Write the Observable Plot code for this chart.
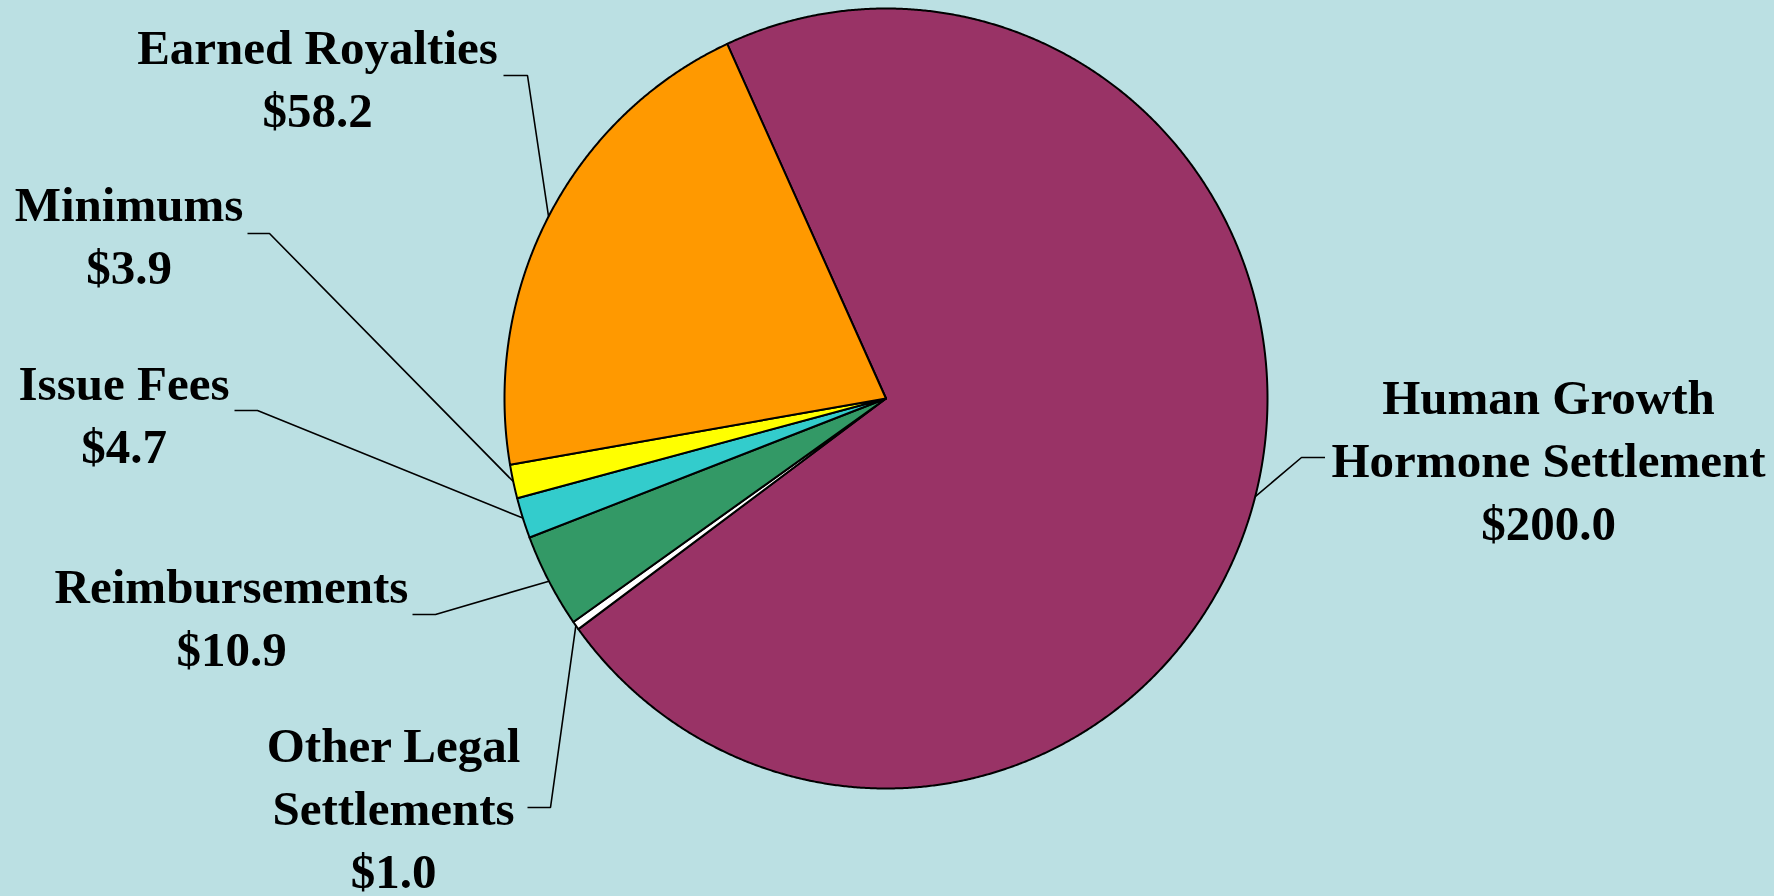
<!DOCTYPE html>
<html>
<head>
<meta charset="utf-8">
<script src="https://cdn.jsdelivr.net/npm/d3@7"></script>
<script src="https://cdn.jsdelivr.net/npm/@observablehq/plot@0.6"></script>
<style>
  html, body { margin: 0; padding: 0; background: #BBE0E3; overflow: hidden; }
  #chart { width: 1774px; height: 896px; }
</style>
</head>
<body>
<div id="chart"></div>
<script>
// ---- data ----
const categories = [
  "Human Growth Hormone Settlement",
  "Other Legal Settlements",
  "Reimbursements",
  "Issue Fees",
  "Minimums",
  "Earned Royalties"
];
const values = [200.0, 1.0, 10.9, 4.7, 3.9, 58.2];
const labelNames = [
  "Human Growth\nHormone Settlement",
  "Other Legal\nSettlements",
  "Reimbursements",
  "Issue Fees",
  "Minimums",
  "Earned Royalties"
];
const colors = ["#993366", "#FFFFFF", "#339966", "#33CCCC", "#FFFF00", "#FF9900"];

// ---- layout (pixels) ----
const W = 1774, H = 896;
const pieGeom = { cx: 885.5, cy: 398, rx: 381.5, ry: 390, startDeg: -24.6 };
// label: centre x, baseline of last line; leader: elbow (ex, ey) and tick end tx
const labelLayout = [
  { x: 1548, y: 539, ex: 1301, ey: 457, tx: 1324.5 },
  { x: 393,  y: 887, ex: 550,  ey: 807, tx: 527 },
  { x: 231,  y: 665, ex: 435,  ey: 614, tx: 412 },
  { x: 123.5,y: 462, ex: 257,  ey: 410, tx: 234 },
  { x: 128.5,y: 283, ex: 269,  ey: 233, tx: 247 },
  { x: 317,  y: 126.5, ex: 527, ey: 75, tx: 503 }
];

// ---- build geometry from values ----
const a0 = pieGeom.startDeg * Math.PI / 180;
const arcs = d3.pie().sort(null).startAngle(a0).endAngle(a0 + 2 * Math.PI)(values);
const px = a => pieGeom.cx + pieGeom.rx * Math.sin(a);
const py = a => pieGeom.cy - pieGeom.ry * Math.cos(a);

const slicePts = [];
arcs.forEach((arc, i) => {
  const name = categories[i];
  slicePts.push({ name, x: pieGeom.cx, y: pieGeom.cy });
  const n = Math.max(2, Math.ceil((arc.endAngle - arc.startAngle) / (Math.PI / 720)));
  for (let k = 0; k <= n; k++) {
    const a = arc.startAngle + (arc.endAngle - arc.startAngle) * k / n;
    slicePts.push({ name, x: px(a), y: py(a) });
  }
  slicePts.push({ name, x: pieGeom.cx, y: pieGeom.cy });
});

const leaderPts = [];
arcs.forEach((arc, i) => {
  const name = categories[i];
  const L = labelLayout[i];
  const mid = (arc.startAngle + arc.endAngle) / 2;
  leaderPts.push({ name, x: px(mid), y: py(mid) });
  leaderPts.push({ name, x: L.ex, y: L.ey });
  leaderPts.push({ name, x: L.tx, y: L.ey });
});

const labels = categories.map((c, i) => ({
  name: c,
  text: labelNames[i] + "\n$" + values[i].toFixed(1),
  x: labelLayout[i].x,
  y: labelLayout[i].y
}));

const chart = Plot.plot({
  width: W,
  height: H,
  margin: 0,
  x: { domain: [0, W], range: [0, W], axis: null },
  y: { domain: [0, H], range: [0, H], axis: null },
  color: { domain: categories, range: colors },
  style: {
    background: "#BBE0E3",
    fontFamily: "'Liberation Serif', 'Times New Roman', serif",
    overflow: "visible"
  },
  marks: [
    Plot.line(slicePts, {
      x: "x", y: "y", z: "name", fill: "name",
      stroke: "black", strokeWidth: 2, strokeLinejoin: "round"
    }),
    Plot.line(leaderPts, {
      x: "x", y: "y", z: "name",
      stroke: "black", strokeWidth: 1.6, strokeLinecap: "butt", strokeLinejoin: "miter"
    }),
    Plot.text(labels, {
      x: "x", y: "y", text: "text",
      textAnchor: "middle", lineAnchor: "bottom", lineHeight: 1.28,
      fontSize: 49, fontWeight: "bold", fill: "black"
    })
  ]
});
document.getElementById("chart").appendChild(chart);
</script>
</body>
</html>
